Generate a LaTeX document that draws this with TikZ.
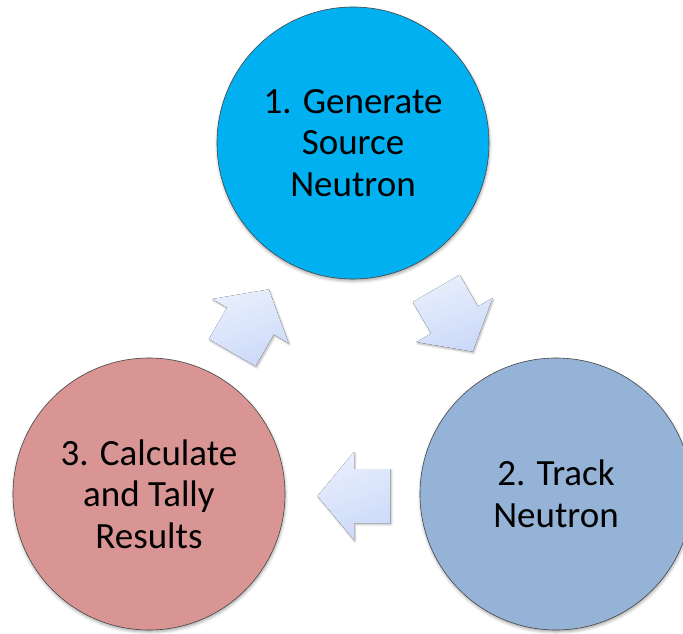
\documentclass[tikz,border=0pt]{standalone}
\usepackage{fontspec}
\setmainfont{Carlito}
\usetikzlibrary{shadows.blur}

\definecolor{stepone}{RGB}{0,176,240}
\definecolor{steptwo}{RGB}{149,179,215}
\definecolor{stepthree}{RGB}{217,149,148}
\definecolor{rimgray}{RGB}{70,70,70}
\definecolor{arrowtop}{RGB}{232,239,253}
\definecolor{arrowbottom}{RGB}{204,217,248}

\tikzset{
  stage/.style={circle, minimum size=272pt, inner sep=0pt, align=center,
    draw=rimgray, line width=0.6pt, text=black,
    font=\fontsize{37}{41.5}\selectfont,
    blur shadow={shadow xshift=0.5pt, shadow yshift=-2pt,
      shadow blur radius=3pt, shadow opacity=35}},
  blockfill/.style={top color=arrowtop, bottom color=arrowbottom,
    shading angle=20,
    blur shadow={shadow xshift=1pt, shadow yshift=-1.5pt,
      shadow blur radius=2pt, shadow opacity=30}}
}

% Block arrow: #1 name, #2 centre, #3 direction (degrees)
\newcommand\cyclearrow[3]{%
  \begin{scope}[shift={(#2)}, rotate=#3]
    \coordinate (#1-tip) at (36.5,0);
    \coordinate (#1-h1)  at (0,44);
    \coordinate (#1-n1)  at (0,27);
    \coordinate (#1-t1)  at (-36.5,27);
    \coordinate (#1-t2)  at (-36.5,-27);
    \coordinate (#1-n2)  at (0,-27);
    \coordinate (#1-h2)  at (0,-44);
  \end{scope}
  \fill[blockfill] (#1-tip) -- (#1-h1) -- (#1-n1) -- (#1-t1) -- (#1-t2)
    -- (#1-n2) -- (#1-h2) -- cycle;
}

\begin{document}
\begin{tikzpicture}[x=1pt, y=-1pt]
  \useasboundingbox (0,0) rectangle (683,633);
  \clip (0,0) rectangle (683,633);

  % the three stages of the neutron transport cycle
  \node[stage, fill=stepone]   (gen)   at (353,143) {1. Generate\\Source\\Neutron};
  \node[stage, fill=steptwo]   (track) at (556,494) {2. Track\\Neutron};
  \node[stage, fill=stepthree] (tally) at (149,494) {3. Calculate\\and Tally\\Results};

  % arrows leading round the cycle
  \cyclearrow{up}{250.5,321}{60}
  \cyclearrow{down}{454.5,320}{-60}
  \cyclearrow{left}{354,496}{180}
\end{tikzpicture}
\end{document}
